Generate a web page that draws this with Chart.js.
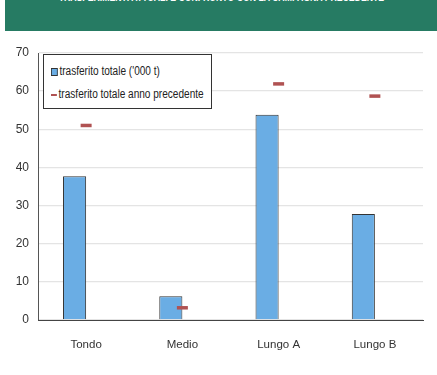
<!DOCTYPE html>
<html>
<head>
<meta charset="utf-8">
<script src="https://cdn.jsdelivr.net/npm/chart.js@4"></script>
<style>
  html, body { margin: 0; padding: 0; background: #fff; }
  .wrap { position: relative; width: 437px; height: 375px; overflow: hidden; }
  .wrap canvas { position: absolute; left: 0; top: 0; }
  .title-bar {
    position: absolute; left: 5px; top: 0; width: 432px; height: 31px;
    background: #267b63; overflow: hidden;
  }
  .title-bar span {
    position: absolute; left: 0; right: 0; top: -9px; text-align: center;
    color: #fff; font: bold 11px "Liberation Sans", Arial, sans-serif;
    white-space: nowrap; transform: scaleX(0.79); transform-origin: 218px 0;
  }
  .legend {
    position: absolute; left: 43px; top: 54px; width: 167px; height: 53px;
    border: 1px solid #333; background: #fff;
    font: 12px "Liberation Sans", Arial, sans-serif; color: #222;
  }
  .legend div {
    position: absolute; left: 7px; white-space: nowrap; line-height: 14px;
    transform: scaleX(0.84); transform-origin: 0 0;
  }
  .legend i { display: inline-block; vertical-align: middle; margin-right: 2px; }
</style>
</head>
<body>
<div class="wrap">
  <canvas id="chart" width="437" height="375"></canvas>
  <div class="title-bar"><span>TRASFERIMENTI ATTUALI E CONFRONTO CON LA CAMPAGNA PRECEDENTE</span></div>
  <div class="legend" id="legend"></div>
</div>
<script>
const categories = ["Tondo", "Medio", "Lungo A", "Lungo B"];
const current = [37.7, 6.2, 53.8, 27.8];
const previous = [51.0, 3.2, 61.9, 58.7];
const yTicks = [0, 10, 20, 30, 40, 50, 60, 70];

const labelFont = { family: "'Liberation Sans', Arial, sans-serif", size: 12 };

const chart = new Chart(document.getElementById("chart"), {
  type: "bar",
  data: {
    labels: categories,
    datasets: [
      {
        label: "trasferito totale ('000 t)",
        data: current,
        backgroundColor: "#6aade4",
        borderColor: "#333",
        borderWidth: 1,
        order: 2
      },
      {
        // empty slot so the bar sits left of the category centre
        label: "",
        data: categories.map(() => null),
        order: 3
      },
      {
        type: "line",
        label: "trasferito totale anno precedente",
        data: previous,
        showLine: false,
        borderColor: "#b05252",
        backgroundColor: "#b05252",
        pointStyle: "line",
        pointRadius: 5.5,
        pointHoverRadius: 5.5,
        pointBorderWidth: 3.5,
        order: 1
      }
    ]
  },
  options: {
    responsive: false,
    animation: false,
    datasets: { bar: { categoryPercentage: 0.48, barPercentage: 1 } },
    layout: { padding: { top: 53, right: 14, left: 0, bottom: 0 } },
    plugins: { legend: { display: false }, tooltip: { enabled: false } },
    scales: {
      x: {
        grid: { display: false },
        border: { color: "#444", width: 1 },
        ticks: { color: "#333", font: { ...labelFont, size: 11.5 }, padding: 10 },
        afterFit: s => { s.height = 55; }
      },
      y: {
        min: 0,
        max: 70,
        afterBuildTicks: s => { s.ticks = yTicks.map(v => ({ value: v })); },
        grid: { color: "#e4e4e4", lineWidth: 1.3, drawTicks: false },
        border: { color: "#555", width: 1 },
        ticks: { color: "#333", font: labelFont, padding: 9 },
        afterFit: s => { s.width = 38; }
      }
    }
  }
});

// legend box inside the plot, built from the datasets
const legend = document.getElementById("legend");
const items = chart.data.datasets.filter(d => d.label);
items.forEach((d, i) => {
  const row = document.createElement("div");
  row.style.top = (9 + i * 23) + "px";
  const icon = document.createElement("i");
  if (d.type === "line") {
    icon.style.cssText = "width:7px;height:2px;background:" + d.borderColor;
  } else {
    icon.style.cssText = "width:6px;height:6px;background:" + d.backgroundColor + ";border:1px solid #333";
  }
  row.appendChild(icon);
  row.appendChild(document.createTextNode(d.label));
  legend.appendChild(row);
});
</script>
</body>
</html>
